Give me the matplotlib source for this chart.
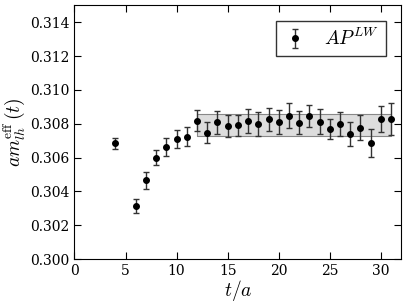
import matplotlib
matplotlib.use("Agg")
import matplotlib.pyplot as plt

plt.rcParams["font.family"] = "DejaVu Serif"
plt.rcParams["mathtext.fontset"] = "cm"
plt.rcParams["xtick.direction"] = "in"
plt.rcParams["ytick.direction"] = "in"
plt.rcParams["xtick.top"] = True
plt.rcParams["ytick.right"] = True

t = [4, 6, 7, 8, 9, 10, 11, 12, 13, 14, 15, 16, 17, 18, 19, 20, 21, 22,
     23, 24, 25, 26, 27, 28, 29, 30, 31]
m_eff = [0.30685, 0.30315, 0.30467, 0.30599, 0.30665, 0.30712, 0.30724,
         0.30819, 0.30746, 0.30809, 0.30788, 0.30791, 0.30817, 0.30801,
         0.30827, 0.30811, 0.30848, 0.30805, 0.30848, 0.30811, 0.30771,
         0.30799, 0.30738, 0.30777, 0.30686, 0.30827, 0.30827]
m_err = [0.00034, 0.00040, 0.00050, 0.00045, 0.00053, 0.00053, 0.00058,
         0.00062, 0.00062, 0.00069, 0.00067, 0.00061, 0.00069, 0.00071,
         0.00067, 0.00073, 0.00075, 0.00068, 0.00066, 0.00074, 0.00059,
         0.00070, 0.00070, 0.00074, 0.00081, 0.00077, 0.00094]

fit_range = [12, 31]
fit_lo = 0.30728
fit_hi = 0.30858

fig = plt.figure(figsize=(4.07, 3.03), dpi=100)
ax = fig.add_axes([0.183, 0.145, 0.803, 0.837])

ax.fill_between(fit_range, [fit_lo, fit_lo], [fit_hi, fit_hi],
                facecolor="#dddddd", edgecolor="#888888", linewidth=0.8)
ax.errorbar(t, m_eff, yerr=m_err, fmt="o", color="black", ecolor="#333333",
            markersize=4, capsize=2.5, elinewidth=1, capthick=1,
            label=r"$AP^{LW}$")

ax.set_xlim(0, 32)
ax.set_ylim(0.300, 0.315)
ax.set_xticks([0, 5, 10, 15, 20, 25, 30])
ax.set_yticks([0.300, 0.302, 0.304, 0.306, 0.308, 0.310, 0.312, 0.314])
ax.set_yticklabels(["%.3f" % v for v in ax.get_yticks()])
ax.tick_params(labelsize=10, length=5)
ax.set_xlabel(r"$t/a$", fontsize=14, labelpad=0)
ax.set_ylabel(r"$am_{lh}^{\rm eff}\,(t)$", fontsize=14, labelpad=2)

leg = ax.legend(loc="upper right", fontsize=14, fancybox=False, numpoints=1,
                handlelength=1.2, borderpad=0.35, borderaxespad=0.8,
                handletextpad=0.9)
leg.get_frame().set_edgecolor("black")

fig.savefig("out.png", dpi=100)
